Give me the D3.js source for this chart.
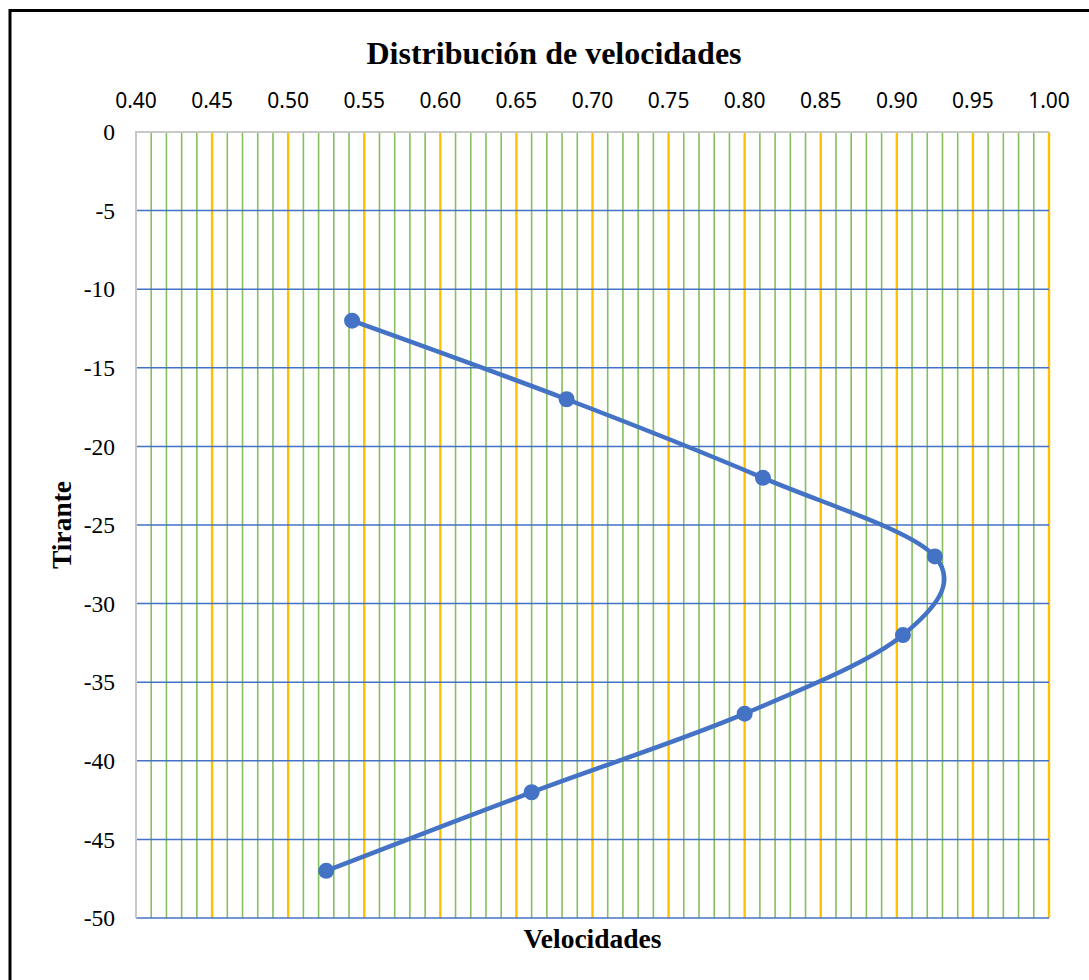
<!DOCTYPE html>
<html>
<head>
<meta charset="utf-8">
<script src="https://cdnjs.cloudflare.com/ajax/libs/d3/7.8.5/d3.min.js"></script>
<style>
  html, body { margin: 0; padding: 0; background: #ffffff; }
  svg { display: block; }
</style>
</head>
<body>
<svg id="chart" width="1089" height="980"></svg>
<script>
// ---- Data ----
const velocidades = [0.542, 0.683, 0.812, 0.925, 0.904, 0.800, 0.660, 0.525];
const tirantes    = [-12, -17, -22, -27, -32, -37, -42, -47];
const xTickLabels = ["0.40","0.45","0.50","0.55","0.60","0.65","0.70","0.75","0.80","0.85","0.90","0.95","1.00"];
const yTickLabels = ["0","-5","-10","-15","-20","-25","-30","-35","-40","-45","-50"];
const titleText = "Distribución de velocidades";
const xTitle = "Velocidades";
const yTitle = "Tirante";

// ---- Layout ----
const W = 1089, H = 980;
const plot = { left: 136, right: 1049, top: 132, bottom: 918 };

const svg = d3.select("#chart");

const x = d3.scaleLinear().domain([0.40, 1.00]).range([plot.left, plot.right]);
const y = d3.scaleLinear().domain([0, -50]).range([plot.top, plot.bottom]);

// outer chart border
svg.append("rect")
  .attr("x", 10).attr("y", 10.5)
  .attr("width", 1200).attr("height", 1200)
  .attr("fill", "#ffffff")
  .attr("stroke", "#000000")
  .attr("stroke-width", 3);

// minor vertical gridlines (every 0.01)
const minorTicks = d3.range(41, 100).filter(v => v % 5 !== 0).map(v => v / 100);
svg.append("g").selectAll("line")
  .data(minorTicks).join("line")
  .attr("x1", d => x(d)).attr("x2", d => x(d))
  .attr("y1", plot.top).attr("y2", plot.bottom)
  .attr("stroke", "#85bf5e")
  .attr("stroke-width", 1.6);

// major vertical gridlines (every 0.05)
const majorTicks = xTickLabels.map(Number).filter(v => v > 0.40);
svg.append("g").selectAll("line")
  .data(majorTicks).join("line")
  .attr("x1", d => x(d)).attr("x2", d => x(d))
  .attr("y1", plot.top).attr("y2", plot.bottom)
  .attr("stroke", "#ffc000")
  .attr("stroke-width", 2.4);

// horizontal gridlines
const yVals = yTickLabels.map(Number);
svg.append("g").selectAll("line")
  .data(yVals.filter(v => v !== 0)).join("line")
  .attr("x1", plot.left).attr("x2", plot.right)
  .attr("y1", d => y(d)).attr("y2", d => y(d))
  .attr("stroke", "#4472c4")
  .attr("stroke-width", 1.5);

// axis lines (top x-axis at 0, left y-axis at 0.40)
svg.append("line")
  .attr("x1", plot.left).attr("x2", plot.right)
  .attr("y1", plot.top).attr("y2", plot.top)
  .attr("stroke", "#c8c8c8").attr("stroke-width", 2);
svg.append("line")
  .attr("x1", plot.left).attr("x2", plot.left)
  .attr("y1", plot.top - 1).attr("y2", plot.bottom)
  .attr("stroke", "#c8c8c8").attr("stroke-width", 2);

// x tick labels (top)
svg.append("g").selectAll("text")
  .data(xTickLabels).join("text")
  .attr("x", d => x(+d))
  .attr("y", 108)
  .attr("text-anchor", "middle")
  .attr("font-family", "'Noto Sans', sans-serif")
  .attr("font-size", 21)
  .attr("fill", "#000")
  .text(d => d);

// y tick labels
svg.append("g").selectAll("text")
  .data(yTickLabels).join("text")
  .attr("x", 115)
  .attr("y", d => y(+d))
  .attr("dy", "0.35em")
  .attr("text-anchor", "end")
  .attr("font-family", "'Liberation Serif', 'Times New Roman', serif")
  .attr("font-size", 23.5)
  .attr("fill", "#000")
  .text(d => d);

// title
svg.append("text")
  .attr("x", 554).attr("y", 64)
  .attr("text-anchor", "middle")
  .attr("font-family", "'Liberation Serif', 'Times New Roman', serif")
  .attr("font-weight", "bold")
  .attr("font-size", 32)
  .attr("fill", "#000")
  .text(titleText);

// x axis title
svg.append("text")
  .attr("x", (plot.left + plot.right) / 2).attr("y", 948)
  .attr("text-anchor", "middle")
  .attr("font-family", "'Liberation Serif', 'Times New Roman', serif")
  .attr("font-weight", "bold")
  .attr("font-size", 27.5)
  .attr("fill", "#000")
  .text(xTitle);

// y axis title
svg.append("text")
  .attr("transform", `translate(71, ${(plot.top + plot.bottom) / 2}) rotate(-90)`)
  .attr("text-anchor", "middle")
  .attr("font-family", "'Liberation Serif', 'Times New Roman', serif")
  .attr("font-weight", "bold")
  .attr("font-size", 27.5)
  .attr("fill", "#000")
  .text(yTitle);

// series
const pts = velocidades.map((v, i) => [v, tirantes[i]]);
const line = d3.line()
  .x(d => x(d[0])).y(d => y(d[1]))
  .curve(d3.curveCatmullRom.alpha(0));

svg.append("path")
  .datum(pts)
  .attr("d", line)
  .attr("fill", "none")
  .attr("stroke", "#4472c4")
  .attr("stroke-width", 4.5)
  .attr("stroke-linejoin", "round")
  .attr("stroke-linecap", "round");

svg.append("g").selectAll("circle")
  .data(pts).join("circle")
  .attr("cx", d => x(d[0])).attr("cy", d => y(d[1]))
  .attr("r", 8)
  .attr("fill", "#4472c4");
</script>
</body>
</html>
